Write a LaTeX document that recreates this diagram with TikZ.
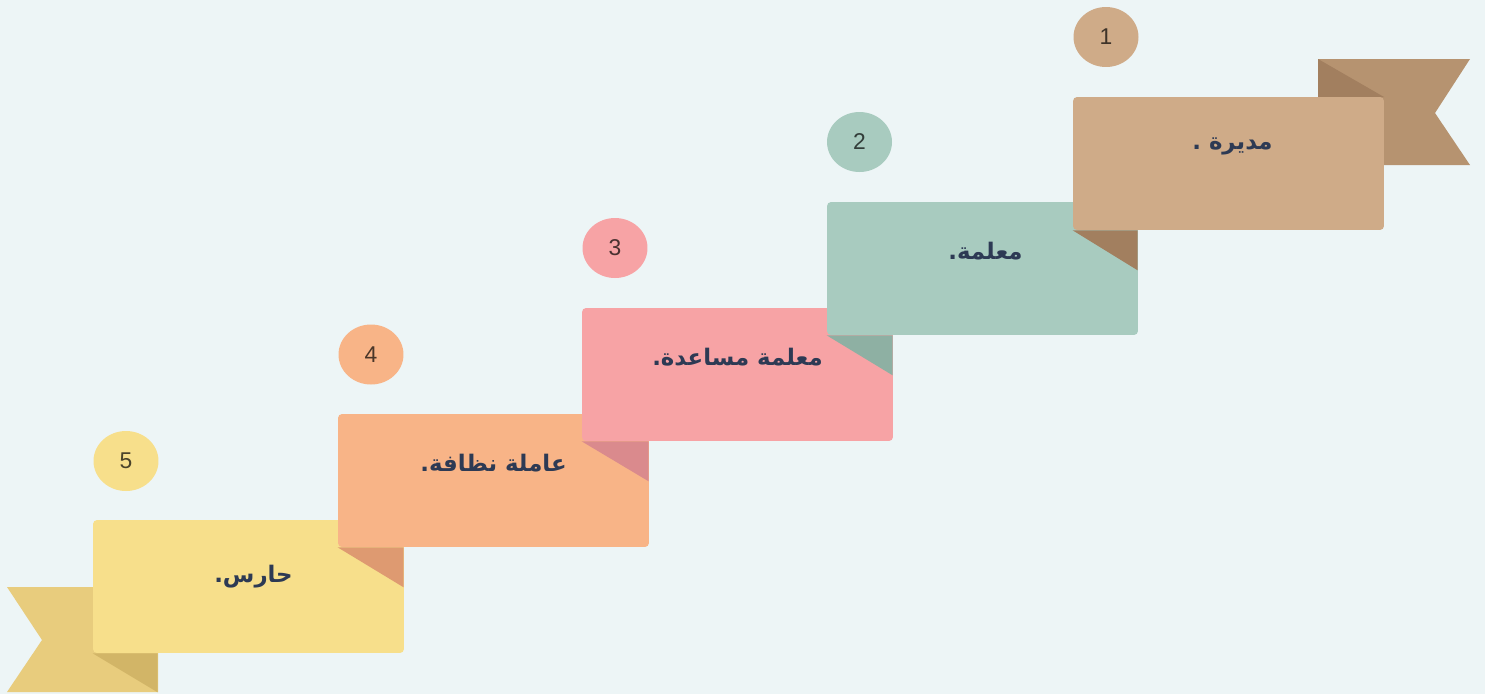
\documentclass[tikz,border=0pt]{standalone}
\usepackage{fontspec}
\setmainfont{Liberation Sans}
\newfontfamily\arabicfont[Script=Arabic]{DejaVu Sans}
\TeXXeTstate=1
\usetikzlibrary{shapes.geometric}
\definecolor{paper}{HTML}{EDF5F6}
\definecolor{ink}{HTML}{2D3A54}
\definecolor{cA}{HTML}{CFAB88}
\definecolor{cB}{HTML}{A8CBBF}
\definecolor{cC}{HTML}{F7A3A5}
\definecolor{cD}{HTML}{F8B487}
\definecolor{cE}{HTML}{F7DF8B}
\definecolor{fA}{HTML}{A27F5F}
\definecolor{fB}{HTML}{8EB0A3}
\definecolor{fC}{HTML}{DA8A8D}
\definecolor{fD}{HTML}{DE9A71}
\definecolor{fE}{HTML}{D2B567}
\definecolor{tA}{HTML}{B69370}
\definecolor{tE}{HTML}{E8CC7D}

\begin{document}
\begin{tikzpicture}[x=0.02cm, y=-0.02cm,
  every node/.style={font=\arabicfont\bfseries\fontsize{13}{15}\selectfont, text=ink},
  card/.style={rounded corners=0.08cm, minimum width=6.22cm, minimum height=2.66cm, inner sep=0pt},
  badge/.style={ellipse, minimum width=1.3cm, minimum height=1.2cm, inner sep=0pt,
    font=\rmfamily\fontsize{13}{15}\selectfont}]
\useasboundingbox (0,0) rectangle (1485,694);
\fill[paper] (0,0) rectangle (1485,694);
% ribbon ends
\fill[tA] (1318,59) -- (1470,59) -- (1435,113) -- (1470,165) -- (1318,165) -- cycle;
\fill[fA] (1318,59) -- (1384,97) -- (1318,97) -- cycle;
\fill[tE] (7,587) -- (158,587) -- (158,692) -- (7,692) -- (42,640) -- cycle;
% cards, lowest first
\node[card, fill=cE] (E) at (248.5,586.5) {};
\node[card, fill=cD] (D) at (493.5,480.5) {};
\node[card, fill=cC] (C) at (737.5,374.5) {};
\node[card, fill=cB] (B) at (982.5,268.5) {};
\node[card, fill=cA] (A) at (1228.5,163.5) {};
\fill[fA] (A.south west) -- ++(65,0) -- ++(0,40) -- cycle;
\fill[fB] (B.south west) -- ++(66,0) -- ++(0,40) -- cycle;
\fill[fC] (C.south west) -- ++(67,0) -- ++(0,40) -- cycle;
\fill[fD] (D.south west) -- ++(66,0) -- ++(0,40) -- cycle;
\fill[fE] (E.south west) -- ++(65,0) -- ++(0,39) -- cycle;
% titles
\node (lA) at ([yshift=-1cm,xshift=0.08cm]A.north) {\beginR مديرة .\endR};
\node (lB) at ([yshift=-0.98cm,xshift=0.06cm]B.north) {\beginR معلمة.\endR};
\node (lC) at ([yshift=-0.98cm]C.north) {\beginR معلمة مساعدة.\endR};
\node (lD) at ([yshift=-0.98cm]D.north) {\beginR عاملة نظافة.\endR};
\node (lE) at ([yshift=-1.14cm,xshift=0.1cm]E.north) {\beginR حارس.\endR};
% numbers
\node[badge, fill=cA, text=cA!30!black] (nA) at (1106,37) {1};
\node[badge, fill=cB, text=cB!30!black] (nB) at (859.5,142) {2};
\node[badge, fill=cC, text=cC!30!black] (nC) at (615,248) {3};
\node[badge, fill=cD, text=cD!30!black] (nD) at (371,354.5) {4};
\node[badge, fill=cE, text=cE!30!black] (nE) at (126,461) {5};
\end{tikzpicture}
\end{document}
